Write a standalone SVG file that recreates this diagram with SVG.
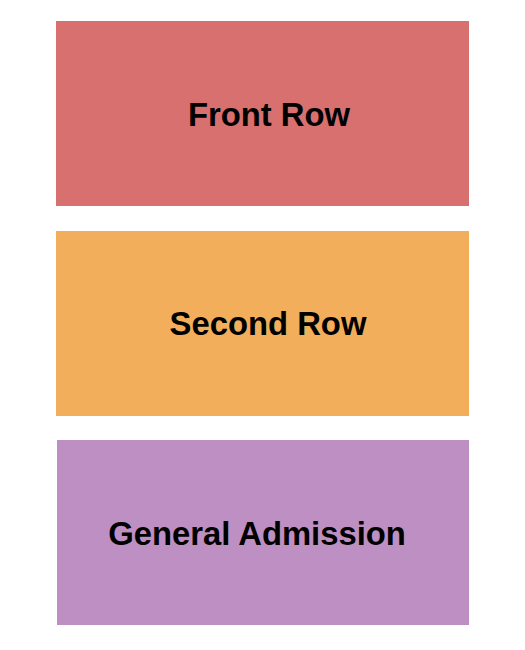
<svg xmlns="http://www.w3.org/2000/svg" width="525" height="650" viewBox="0 0 525 650">
<style>
.lbl{font-family:"Liberation Sans",Arial,sans-serif;font-weight:bold;font-size:32.8px;fill:#000;text-anchor:middle}
</style>
<rect width="525" height="650" fill="#fff"/>
<g id="front-row">
<rect x="56" y="21" width="413" height="185" fill="#D7706E"/>
<text class="lbl" x="269" y="126">Front Row</text>
</g>
<g id="second-row">
<rect x="56" y="231" width="413" height="185" fill="#F3AE5B"/>
<text class="lbl" x="268" y="335">Second Row</text>
</g>
<g id="general-admission">
<rect x="57" y="440" width="412" height="185" fill="#BE8FC2"/>
<text class="lbl" x="257" y="545">General Admission</text>
</g>
<g id="connectors"/>
</svg>
